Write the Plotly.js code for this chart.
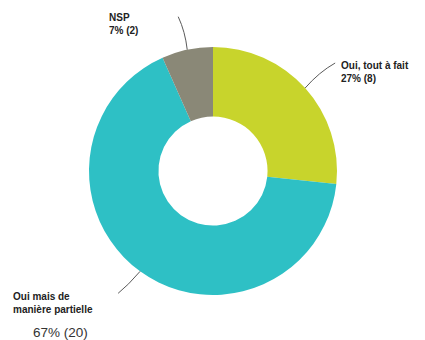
<!DOCTYPE html>
<html><head><meta charset="utf-8">
<script src="https://cdn.plot.ly/plotly-3.0.1.min.js"></script>
<style>html,body{margin:0;padding:0;background:#fff}#c{width:425px;height:340px}</style>
</head><body><div id="c"></div>
<script>
const categories = ["Oui, tout à fait", "Oui mais de manière partielle", "NSP"];
const values = [8, 20, 2];
const percents = ["27%", "67%", "7%"];
const colors = ["#c8d42c", "#2ec0c5", "#8a8877"];

const W = 425, H = 340;
const cx = 213, cy = 171, R = 124;
const dom = {x: [(cx - R) / W, (cx + R) / W], y: [(H - cy - R) / H, (H - cy + R) / H]};

const total = values.reduce((a, b) => a + b, 0);
// mid angles (clockwise from top) of each slice, computed from the data
let acc = 0;
const tips = values.map(v => {
  const mid = (acc + v / 2) / total * 2 * Math.PI;
  acc += v;
  return {x: cx + R * Math.sin(mid), y: cy - R * Math.cos(mid)};
});
const px = x => x / W, py = y => 1 - y / H;

const lineStyle = {color: "#5a5a5a", width: 1};
// leader line end offsets and bend (layout)
const tails = [
  {dx: 30, dy: -25, bx: 14, by: -16},   // Oui, tout à fait
  {dx: -22, dy: 22, bx: -12, by: 14},   // Oui mais...
  {dx: -9, dy: -33, bx: -2, by: -18}    // NSP
];
const shapes = tips.map((t, i) => {
  const ex = t.x + tails[i].dx, ey = t.y + tails[i].dy;
  const mx = t.x + tails[i].bx, my = t.y + tails[i].by;
  return {type: "path", xref: "paper", yref: "paper", layer: "above", line: lineStyle,
    path: `M ${px(t.x)} ${py(t.y)} Q ${px(mx)} ${py(my)} ${px(ex)} ${py(ey)}`};
});

const bold = {family: "Liberation Sans Narrow, Arial Narrow, Liberation Sans, Arial", size: 10, color: "#222"};
const annotations = [
  {text: "<b>" + categories[0] + "</b><br><b>" + percents[0] + " (" + values[0] + ")</b>",
   x: px(339), y: py(72), xanchor: "left", yanchor: "middle", align: "left"},
  {text: "<b>Oui mais de</b><br><b>manière partielle</b>",
   x: px(11), y: py(303), xanchor: "left", yanchor: "middle", align: "left"},
  {text: percents[1] + " (" + values[1] + ")",
   x: px(31), y: py(332), xanchor: "left", yanchor: "middle", align: "left",
   font: {family: "Liberation Sans, Arial", size: 13.5, color: "#333"}},
  {text: "<b>" + categories[2] + "</b><br><b>" + percents[2] + " (" + values[2] + ")</b>",
   x: px(107), y: py(24), xanchor: "left", yanchor: "middle", align: "left"}
].map(a => Object.assign({xref: "paper", yref: "paper", showarrow: false, font: bold}, a));

Plotly.newPlot("c", [{
  type: "pie",
  labels: categories,
  values: values,
  hole: 0.44,
  sort: false,
  direction: "clockwise",
  rotation: 0,
  marker: {colors: colors, line: {width: 0}},
  textinfo: "none",
  hoverinfo: "none",
  domain: dom
}], {
  width: W, height: H,
  margin: {l: 0, r: 0, t: 0, b: 0},
  paper_bgcolor: "#fff",
  showlegend: false,
  shapes: shapes,
  annotations: annotations
}, {staticPlot: true});
</script></body></html>
